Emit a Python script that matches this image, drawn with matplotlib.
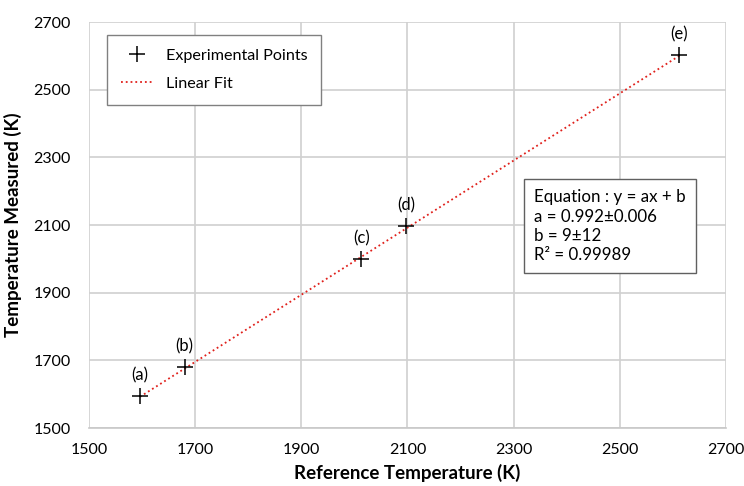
import numpy as np
import matplotlib.pyplot as plt

plt.rcParams['font.family'] = ['Lato', 'DejaVu Sans']

# data
ref_temp = [1596, 1680, 2013, 2097, 2612]
meas_temp = [1594, 1680, 2000, 2096, 2602]
point_labels = ['(a)', '(b)', '(c)', '(d)', '(e)']
slope = 0.992
intercept = 9

fig = plt.figure(figsize=(7.44, 4.86), dpi=100)
ax = fig.add_axes([0.1196, 0.1193, 0.8562, 0.8354])

xfit = np.array([min(ref_temp), max(ref_temp)])
ax.plot(xfit, slope * xfit + intercept, linestyle=':', color='#e0201b', lw=1.3,
        label='Linear Fit', zorder=2)
ax.plot(ref_temp, meas_temp, '+', color='black', ms=12, mew=1.1,
        label='Experimental Points', zorder=3)

for x, y, t in zip(ref_temp, meas_temp, point_labels):
    ax.annotate(t, (x, y), xytext=(0, 9), textcoords='offset points',
                ha='center', va='bottom', fontsize=12)

ax.set_xlim(1500, 2700)
ax.set_ylim(1500, 2700)
ax.set_xticks(np.arange(1500, 2701, 200))
ax.set_yticks(np.arange(1500, 2701, 200))
ax.grid(True, color='#d0d0d0', lw=1.2)
ax.set_axisbelow(True)
for s in ['top', 'right', 'left']:
    ax.spines[s].set_visible(False)
ax.spines['bottom'].set_color('#c8c8c8')
ax.spines['bottom'].set_linewidth(1.2)
ax.tick_params(length=0, labelsize=11.5)
ax.tick_params(axis='x', pad=11)
ax.tick_params(axis='y', pad=13)

ax.set_xlabel('Reference Temperature (K)', fontsize=13.5, fontweight='bold', labelpad=5)
ax.set_ylabel('Temperature Measured (K)', fontsize=13.5, fontweight='bold', labelpad=8)

h, l = ax.get_legend_handles_labels()
leg = ax.legend(h[::-1], l[::-1], loc='upper left', bbox_to_anchor=(0.028, 0.968),
                borderaxespad=0, fontsize=11.6, fancybox=False, edgecolor='#808080',
                framealpha=1, handlelength=2.0, borderpad=0.85, labelspacing=0.85)
leg.get_frame().set_linewidth(1.0)

ax.text(0.699, 0.588, 'Equation : y = ax + b\na = 0.992\u00b10.006\nb = 9\u00b112\nR\u00b2 = 0.99989',
        transform=ax.transAxes, ha='left', va='top', fontsize=12.2, linespacing=1.25,
        bbox=dict(boxstyle='square,pad=0.6', fc='white', ec='#606060', lw=1.0))

fig.savefig('out.png', dpi=100)
